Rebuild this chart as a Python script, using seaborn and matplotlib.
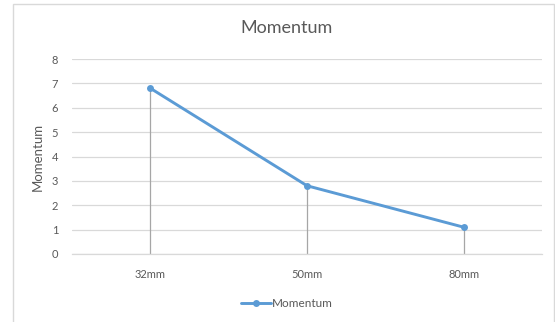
import matplotlib
matplotlib.use("Agg")
import matplotlib.pyplot as plt
import seaborn as sns
import pandas as pd
from matplotlib.patches import Rectangle

# Data
sizes = ["32mm", "50mm", "80mm"]
momentum = [6.8, 2.8, 1.1]
y_ticks = [0, 1, 2, 3, 4, 5, 6, 7, 8]

df = pd.DataFrame({"size": sizes, "Momentum": momentum})
df["pos"] = range(len(sizes))

sns.set_theme(style="white")
plt.rcParams["font.family"] = ["Lato", "DejaVu Sans"]

line_color = "#5B9BD5"
text_color = "#595959"
grid_color = "#D9D9D9"

fig = plt.figure(figsize=(5.55, 3.22), dpi=100)
fig.patch.set_facecolor("white")

# Chart area border
fig.patches.append(Rectangle((13 / 555, -0.01), 541 / 555, (322 - 4) / 322 + 0.01,
                             transform=fig.transFigure, fill=False,
                             edgecolor="#D9D9D9", linewidth=1.0))

ax = fig.add_axes([72 / 555, (322 - 254) / 322, 470 / 555, 195 / 322])

# Drop lines from each point to the axis
ax.vlines(df["pos"], 0, df["Momentum"], color="#A6A6A6", linewidth=0.9, zorder=2)

sns.lineplot(data=df, x="pos", y="Momentum", ax=ax, color=line_color,
             linewidth=2.1, marker="o", markersize=5, markeredgewidth=0,
             label="Momentum", zorder=3)

ax.set_xlim(-0.5, 2.5)
ax.set_ylim(0, 8)
ax.set_yticks(y_ticks)
ax.set_xticks(df["pos"])
ax.set_xticklabels(sizes)
ax.yaxis.grid(True, color=grid_color, linewidth=0.9)
ax.set_axisbelow(True)
for side in ["top", "right", "left"]:
    ax.spines[side].set_visible(False)
ax.spines["bottom"].set_color(grid_color)
ax.spines["bottom"].set_linewidth(0.9)
ax.tick_params(axis="both", length=0, labelsize=8, colors=text_color)
ax.tick_params(axis="x", pad=11)
ax.tick_params(axis="y", pad=10)

ax.set_xlabel("")
ax.set_ylabel("Momentum", fontsize=9.5, color=text_color, labelpad=6)

fig.text(286 / 555, 1 - 28 / 322, "Momentum", ha="center", va="center",
         fontsize=13, color=text_color)

leg = ax.legend(loc="center", bbox_to_anchor=(0.457, -0.255), frameon=False,
                fontsize=8.5, handlelength=2.5, handletextpad=0.1)
for t in leg.get_texts():
    t.set_color(text_color)

fig.savefig("out.png", dpi=100, facecolor="white")
